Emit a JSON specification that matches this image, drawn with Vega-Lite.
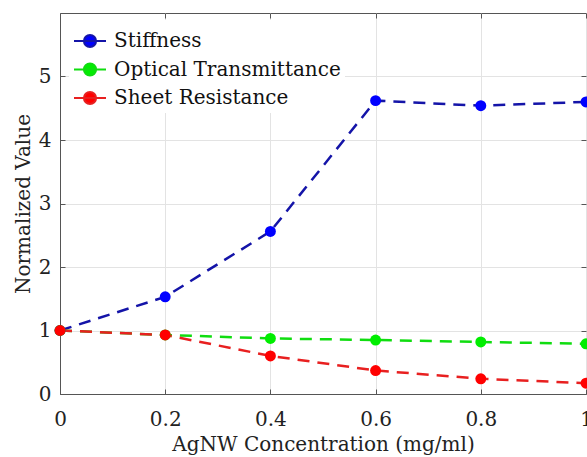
{
  "$schema": "https://vega.github.io/schema/vega-lite/v6.json",
  "width": 526,
  "height": 381,
  "autosize": "none",
  "padding": {"left": 60, "top": 13, "right": 1, "bottom": 63},
  "background": "white",
  "config": {
    "font": "DejaVu Serif",
    "view": {"stroke": "#555", "strokeWidth": 1},
    "axis": {
      "labelFont": "DejaVu Serif",
      "titleFont": "DejaVu Serif",
      "labelFontSize": 20,
      "titleFontSize": 20,
      "labelColor": "#222",
      "titleColor": "#222",
      "titleFontWeight": "normal",
      "gridColor": "#e3e3e3",
      "gridWidth": 1,
      "domainColor": "#555",
      "tickColor": "#555",
      "tickSize": -5
    },
    "legend": {
      "labelFont": "DejaVu Serif",
      "labelFontSize": 20,
      "labelColor": "#111",
      "labelLimit": 400
    }
  },
  "resolve": {"axis": {"x": "independent", "y": "independent"}},
  "data": {
    "values": [
      {"x": 0, "series": "Stiffness", "value": 1.0},
      {"x": 0.2, "series": "Stiffness", "value": 1.53},
      {"x": 0.4, "series": "Stiffness", "value": 2.56},
      {"x": 0.6, "series": "Stiffness", "value": 4.62},
      {"x": 0.8, "series": "Stiffness", "value": 4.54},
      {"x": 1.0, "series": "Stiffness", "value": 4.6},
      {"x": 0, "series": "Optical Transmittance", "value": 1.0},
      {"x": 0.2, "series": "Optical Transmittance", "value": 0.93},
      {"x": 0.4, "series": "Optical Transmittance", "value": 0.875},
      {"x": 0.6, "series": "Optical Transmittance", "value": 0.85},
      {"x": 0.8, "series": "Optical Transmittance", "value": 0.82},
      {"x": 1.0, "series": "Optical Transmittance", "value": 0.79},
      {"x": 0, "series": "Sheet Resistance", "value": 1.0},
      {"x": 0.2, "series": "Sheet Resistance", "value": 0.93},
      {"x": 0.4, "series": "Sheet Resistance", "value": 0.6},
      {"x": 0.6, "series": "Sheet Resistance", "value": 0.37},
      {"x": 0.8, "series": "Sheet Resistance", "value": 0.24},
      {"x": 1.0, "series": "Sheet Resistance", "value": 0.17}
    ]
  },
  "layer": [
    {
      "mark": {"type": "line", "strokeDash": [12, 8], "strokeWidth": 2.5, "interpolate": "linear"},
      "encoding": {
        "x": {
          "field": "x",
          "type": "quantitative",
          "scale": {"domain": [0, 1], "nice": false},
          "axis": {
            "title": "AgNW Concentration (mg/ml)",
            "values": [0, 0.2, 0.4, 0.6, 0.8, 1],
            "format": "~g",
            "labelPadding": 20,
            "titlePadding": 5,
            "labelFlush": false
          }
        },
        "y": {
          "field": "value",
          "type": "quantitative",
          "scale": {"domain": [0, 6], "nice": false},
          "axis": {
            "title": "Normalized Value",
            "values": [0, 1, 2, 3, 4, 5],
            "labelPadding": 14,
            "titlePadding": 5
          }
        },
        "color": {
          "field": "series",
          "type": "nominal",
          "scale": {"domain": ["Stiffness", "Optical Transmittance", "Sheet Resistance"], "range": ["#1414a8", "#10dd10", "#e82020"]},
          "legend": {
            "title": null,
            "orient": "none",
            "legendX": 9,
            "legendY": 7,
            "fillColor": "white",
            "padding": 4,
            "symbolType": "M-1,0H1M-0.38,0A0.38,0.38,0,1,0,0.38,0A0.38,0.38,0,1,0,-0.38,0Z",
            "symbolSize": 1024,
            "symbolStrokeWidth": 2,
            "rowPadding": 0.5,
            "labelOffset": 7,
            "encode": {
              "symbols": {"update": {"fill": {"scale": "fill", "field": "value"}, "strokeDash": {"value": []}, "opacity": {"value": 1}}}
            }
          }
        }
      }
    },
    {
      "mark": {"type": "point", "filled": true, "size": 120, "opacity": 1, "strokeWidth": 0},
      "encoding": {
        "x": {"field": "x", "type": "quantitative", "axis": null},
        "y": {"field": "value", "type": "quantitative", "axis": null},
        "fill": {
          "field": "series",
          "type": "nominal",
          "scale": {"domain": ["Stiffness", "Optical Transmittance", "Sheet Resistance"], "range": ["#0000ff", "#00ee00", "#ff0000"]},
          "legend": null
        }
      }
    },
    {
      "mark": {"type": "point", "opacity": 0},
      "encoding": {
        "x": {"field": "x", "type": "quantitative", "axis": {"orient": "top", "values": [0, 0.2, 0.4, 0.6, 0.8, 1], "labels": false, "title": null, "grid": false, "domain": false}},
        "y": {"field": "value", "type": "quantitative", "axis": {"orient": "right", "values": [0, 1, 2, 3, 4, 5], "labels": false, "title": null, "grid": false, "domain": false}}
      }
    }
  ]
}
